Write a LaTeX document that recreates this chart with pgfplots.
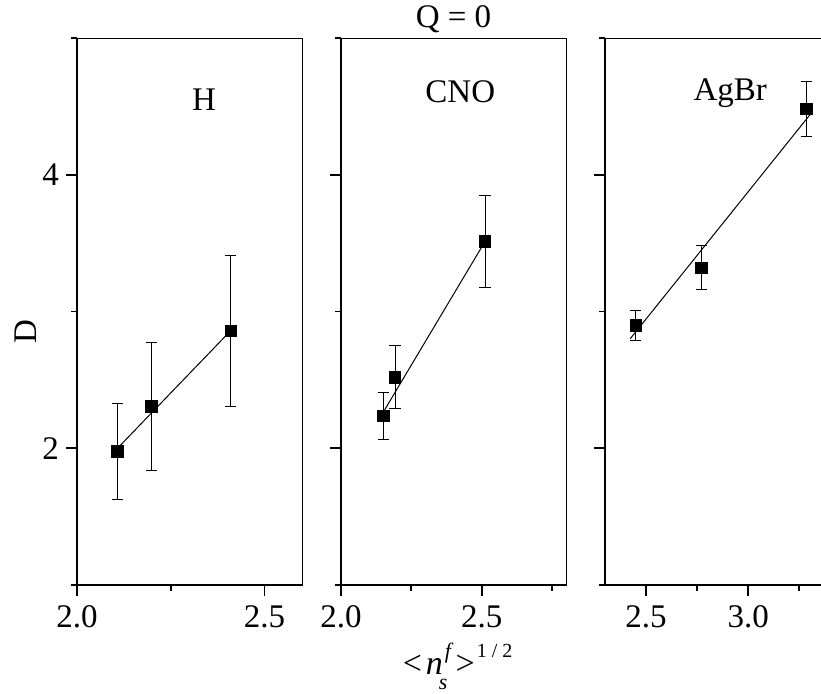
\documentclass[border=0pt]{standalone}
\usepackage{fontspec}
\setmainfont{Liberation Serif}
\usepackage{pgfplots}
\pgfplotsset{compat=1.18}
\newcommand{\fs}{\fontsize{16.5}{19.8}\selectfont}
\newcommand{\fl}{\fontsize{17}{20}\selectfont}
\newcommand{\fsa}{\fontsize{11}{12}\selectfont}
\newcommand{\fsb}{\fontsize{10}{12}\selectfont}
\tikzset{lbl/.style={font=\fs, anchor=base}}
\pgfplotsset{
  every axis title shift=0pt,
  panel/.style={
    scale only axis, width=112.5pt, height=273.5pt,
    anchor=south west,
    ymin=1, ymax=5, ytick={2,4}, minor ytick={1,3,5},
    tick align=outside, xtick pos=left, ytick pos=left,
    major tick length=5.5pt, minor tick length=2.8pt,
    tick style={black, line width=0.9pt},
    axis line style={line width=0.5pt},
    tick label style={font=\fs},
    /pgf/number format/assume math mode=true,
    xticklabel style={inner sep=4.5pt, /pgf/number format/fixed, /pgf/number format/fixed zerofill, /pgf/number format/precision=1},
    yticklabel style={inner sep=3.4pt},
    clip=false,
  },
  datapts/.style={black, only marks, mark=square*, mark size=2.9pt, mark options={solid, fill=black},
    error bars/.cd, y dir=both, y explicit, error bar style={line width=0.5pt, black}, error mark options={rotate=90, mark size=2.8pt, line width=0.5pt, black}},
  fit/.style={black, no marks, line width=0.5pt},
}
\begin{document}
\begin{tikzpicture}
% Panel H
\begin{axis}[panel, at={(38.5pt,54pt)},
  xmin=2.0, xmax=2.6, xtick={2.0,2.5}, minor xtick={2.25},
  ylabel={D}, ylabel style={font=\fs, at={(axis description cs:-0.18,0.4625)}, anchor=base, rotate=0}]
\addplot[fit] coordinates {(2.108,2.00) (2.424,2.90)};
\addplot[datapts] coordinates {
  (2.108,1.977) +- (0,0.35)
  (2.198,2.307) +- (0,0.47)
  (2.410,2.858) +- (0,0.55)
};
\node[lbl] at (axis cs:2.339,4.468) {H};
\draw[line width=1pt] (rel axis cs:0,1) -- (rel axis cs:0,0) -- (rel axis cs:1,0);
\end{axis}
% Panel CNO
\begin{axis}[panel, at={(170.5pt,54pt)},
  xmin=2.0, xmax=2.8, xtick={2.0,2.5}, minor xtick={2.25,2.75},
  yticklabels={},
  title={Q = 0}, title style={font=\fs, at={(axis description cs:0.5,1.0195)}, anchor=base}]
\addplot[fit] coordinates {(2.152,2.27) (2.526,3.56)};
\addplot[datapts] coordinates {
  (2.150,2.236) +- (0,0.17)
  (2.192,2.518) +- (0,0.23)
  (2.512,3.511) +- (0,0.335)
};
\node[lbl] at (axis cs:2.424,4.53) {CNO};
\node[anchor=base, inner sep=0pt, font=\fl] at (axis description cs:0.518,-0.1645)
  {{<}\hspace{2pt}\textit{n}\hspace{-2pt}\rlap{\raisebox{-7.5pt}{\fsa\textit{s}}}\hspace{3pt}\raisebox{8pt}{\fsa\textit{f}}\hspace{1pt}{>}\hspace{1pt}\raisebox{8.5pt}{\fsb 1 / 2}};
\draw[line width=1pt] (rel axis cs:0,1) -- (rel axis cs:0,0) -- (rel axis cs:1,0);
\end{axis}
% Panel AgBr
\begin{axis}[panel, at={(302.5pt,54pt)},
  xmin=2.3, xmax=3.4, xtick={2.5,3.0}, minor xtick={2.75,3.25},
  yticklabels={}]
\addplot[fit] coordinates {(2.423,2.80) (3.308,4.45)};
\addplot[datapts] coordinates {
  (2.451,2.897) +- (0,0.107)
  (2.770,3.320) +- (0,0.16)
  (3.284,4.482) +- (0,0.20)
};
\node[lbl] at (axis cs:2.912,4.54) {AgBr};
\draw[line width=1pt] (rel axis cs:0,1) -- (rel axis cs:0,0) -- (rel axis cs:1,0);
\end{axis}
\pgfresetboundingbox
\useasboundingbox (0,0) rectangle (410.5pt,346.5pt);
\end{tikzpicture}
\end{document}
